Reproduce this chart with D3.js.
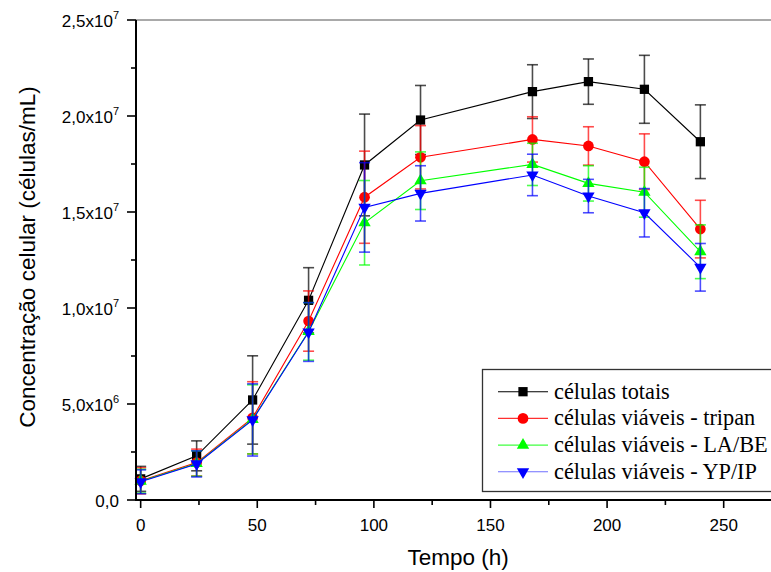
<!DOCTYPE html>
<html>
<head>
<meta charset="utf-8">
<script src="https://cdn.jsdelivr.net/npm/d3@7"></script>
<style>
  html, body { margin: 0; padding: 0; background: #fff; }
  svg { display: block; }
</style>
</head>
<body>
<svg id="chart" width="771" height="572"></svg>
<script>
// ---- data ----
const times = [0, 24, 48, 72, 96, 120, 168, 192, 216, 240];

const totais      = [1.10e6, 2.30e6, 5.21e6, 1.040e7, 1.745e7, 1.979e7, 2.127e7, 2.179e7, 2.139e7, 1.866e7];
const totaisErr   = [0.65e6, 0.78e6, 2.30e6, 1.70e6, 2.65e6, 1.80e6, 1.40e6, 1.18e6, 1.77e6, 1.92e6];

const tripan      = [1.00e6, 1.95e6, 4.28e6, 9.32e6, 1.577e7, 1.785e7, 1.878e7, 1.844e7, 1.762e7, 1.411e7];
const tripanErr   = [0.68e6, 0.70e6, 1.88e6, 1.57e6, 2.40e6, 1.65e6, 1.18e6, 1.00e6, 1.45e6, 1.50e6];

const labe        = [0.98e6, 1.90e6, 4.20e6, 8.78e6, 1.444e7, 1.663e7, 1.748e7, 1.649e7, 1.603e7, 1.293e7];
const labeErr     = [0.62e6, 0.66e6, 1.80e6, 1.50e6, 2.20e6, 1.50e6, 1.10e6, 0.92e6, 1.30e6, 1.40e6];

const ypip        = [0.95e6, 1.88e6, 4.17e6, 8.75e6, 1.524e7, 1.597e7, 1.693e7, 1.583e7, 1.496e7, 1.212e7];
const ypipErr     = [0.62e6, 0.68e6, 1.88e6, 1.53e6, 2.33e6, 1.44e6, 1.08e6, 0.87e6, 1.26e6, 1.24e6];

const seriesNames = ["células totais", "células viáveis - tripan", "células viáveis - LA/BE", "células viáveis - YP/IP"];

const xTicks = [0, 50, 100, 150, 200, 250];
const xMinorTicks = [25, 75, 125, 175, 225, 275];
const yTicks = [0, 5e6, 1e7, 1.5e7, 2e7, 2.5e7];
const yTickMantissa = ["0,0", "5,0x10", "1,0x10", "1,5x10", "2,0x10", "2,5x10"];
const yTickExponent = ["", "6", "7", "7", "7", "7"];
const yMinorTicks = [2.5e6, 7.5e6, 1.25e7, 1.75e7, 2.25e7];

const xTitle = "Tempo (h)";
const yTitle = "Concentração celular (células/mL)";

// ---- styles ----
const colors = ["#000000", "#ff0000", "#00ff00", "#0000ff"];
const legendLineColors = ["#000000", "#ff3030", "#40ff40", "#6f6fff"];
const symbols = ["square", "circle", "triUp", "triDown"];

const svg = d3.select("#chart");
const x = d3.scaleLinear().domain([-2, 272]).range([136, 775]);
const y = d3.scaleLinear().domain([0, 2.5e7]).range([500, 20]);

const sansFont = "'Liberation Sans', Arial, Helvetica, sans-serif";
const serifFont = "'Liberation Serif', 'Times New Roman', serif";

function symbolPath(kind) {
  if (kind === "square") return d3.symbol().type(d3.symbolSquare).size(86)();
  if (kind === "circle") return d3.symbol().type(d3.symbolCircle).size(90)();
  return d3.symbol().type(d3.symbolTriangle).size(66)();
}
function symbolTransform(kind, px, py) {
  if (kind === "triDown") return `translate(${px},${py}) rotate(180)`;
  return `translate(${px},${py})`;
}

// top frame line
svg.append("line")
  .attr("x1", x(-2)).attr("x2", 771)
  .attr("y1", y(2.5e7)).attr("y2", y(2.5e7))
  .attr("stroke", "#555").attr("stroke-width", 1);

// ---- series ----
const allSeries = [
  { vals: totais, errs: totaisErr },
  { vals: tripan, errs: tripanErr },
  { vals: labe, errs: labeErr },
  { vals: ypip, errs: ypipErr }
];

const line = d3.line().x(d => x(d.t)).y(d => y(d.v));

allSeries.forEach((s, i) => {
  const pts = times.map((t, j) => ({ t, v: s.vals[j], e: s.errs[j] }));
  const g = svg.append("g");
  const eb = g.append("g")
    .attr("stroke", colors[i]).attr("stroke-opacity", 0.7).attr("stroke-width", 1.6);
  pts.forEach(p => {
    const cx = x(p.t);
    eb.append("line").attr("x1", cx).attr("x2", cx).attr("y1", y(p.v - p.e)).attr("y2", y(p.v + p.e));
    eb.append("line").attr("x1", cx - 5.5).attr("x2", cx + 5.5).attr("y1", y(p.v - p.e)).attr("y2", y(p.v - p.e));
    eb.append("line").attr("x1", cx - 5.5).attr("x2", cx + 5.5).attr("y1", y(p.v + p.e)).attr("y2", y(p.v + p.e));
  });
  g.append("path").datum(pts)
    .attr("d", line).attr("fill", "none")
    .attr("stroke", colors[i]).attr("stroke-width", 1.1);
  g.selectAll(".m").data(pts).enter().append("path")
    .attr("d", symbolPath(symbols[i]))
    .attr("transform", d => symbolTransform(symbols[i], x(d.t), y(d.v)))
    .attr("fill", colors[i]);
});

// ---- axes ----
// x axis
const xAxisG = svg.append("g").attr("transform", `translate(0,${y(0)})`);
xAxisG.append("line").attr("x1", x(-2) - 1).attr("x2", 771).attr("y1", 0).attr("y2", 0)
  .attr("stroke", "#000").attr("stroke-width", 2);
xAxisG.selectAll(".xt").data(xTicks).enter().append("line")
  .attr("x1", d => x(d)).attr("x2", d => x(d)).attr("y1", 0).attr("y2", 8)
  .attr("stroke", "#000").attr("stroke-width", 1.6);
xAxisG.selectAll(".xm").data(xMinorTicks).enter().append("line")
  .attr("x1", d => x(d)).attr("x2", d => x(d)).attr("y1", 0).attr("y2", 5)
  .attr("stroke", "#000").attr("stroke-width", 1.6);
xAxisG.selectAll(".xl").data(xTicks).enter().append("text")
  .attr("x", d => x(d)).attr("y", 31)
  .attr("text-anchor", "middle")
  .attr("font-family", sansFont).attr("font-size", 17)
  .text(d => d3.format("d")(d));

// y axis
const yAxisG = svg.append("g").attr("transform", `translate(${x(-2)},0)`);
yAxisG.append("line").attr("x1", 0).attr("x2", 0).attr("y1", y(2.5e7)).attr("y2", y(0) + 1)
  .attr("stroke", "#000").attr("stroke-width", 2);
yAxisG.selectAll(".yt").data(yTicks).enter().append("line")
  .attr("x1", -9).attr("x2", 0).attr("y1", d => y(d)).attr("y2", d => y(d))
  .attr("stroke", "#000").attr("stroke-width", 1.6);
yAxisG.selectAll(".ym").data(yMinorTicks).enter().append("line")
  .attr("x1", -5).attr("x2", 0).attr("y1", d => y(d)).attr("y2", d => y(d))
  .attr("stroke", "#000").attr("stroke-width", 1.6);
const yl = yAxisG.selectAll(".yl").data(yTicks).enter().append("text")
  .attr("x", -17).attr("y", d => y(d) + 7)
  .attr("text-anchor", "end")
  .attr("font-family", sansFont).attr("font-size", 17);
yl.append("tspan").text((d, i) => yTickMantissa[i]);
yl.append("tspan")
  .attr("dy", -8).attr("font-size", 11)
  .text((d, i) => yTickExponent[i]);

// axis titles
svg.append("text")
  .attr("x", (x(0) + x(250)) / 2 + 26).attr("y", 565)
  .attr("text-anchor", "middle")
  .attr("font-family", sansFont).attr("font-size", 22.5)
  .text(xTitle);
svg.append("text")
  .attr("transform", `translate(35,${257}) rotate(-90)`)
  .attr("text-anchor", "middle")
  .attr("font-family", sansFont).attr("font-size", 22.5)
  .text(yTitle);

// ---- legend ----
const lg = svg.append("g");
lg.append("rect")
  .attr("x", 482.5).attr("y", 369.5).attr("width", 300).attr("height", 122)
  .attr("fill", "#fff").attr("stroke", "#333").attr("stroke-width", 1.3);
seriesNames.forEach((name, i) => {
  const cy = 391.7 + i * 26.7;
  lg.append("line").attr("x1", 498).attr("x2", 548).attr("y1", cy).attr("y2", cy)
    .attr("stroke", legendLineColors[i]).attr("stroke-width", 1.1);
  lg.append("path")
    .attr("d", symbolPath(symbols[i]))
    .attr("transform", symbolTransform(symbols[i], 523, cy))
    .attr("fill", colors[i]);
  lg.append("text")
    .attr("x", 554).attr("y", cy + 6.8)
    .attr("font-family", serifFont).attr("font-size", 22.3)
    .text(name);
});
</script>
</body>
</html>
